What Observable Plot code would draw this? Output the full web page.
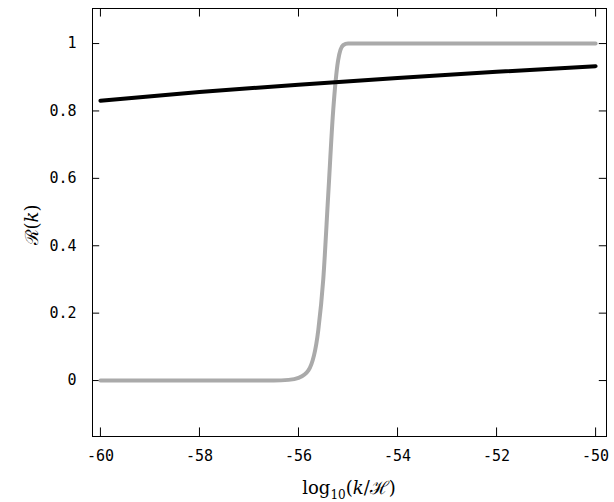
<!DOCTYPE html><html><head><meta charset="utf-8">
<script src="https://cdn.jsdelivr.net/npm/d3@7"></script>
<script src="https://cdn.jsdelivr.net/npm/@observablehq/plot@0.6"></script>
<style>body{margin:0;background:#fff}</style></head><body><div id="c"></div><script>
const blackX=[-60,-58,-56,-54,-52,-50];
const blackY=[0.83,0.856,0.878,0.898,0.916,0.933];
const grayX=[-60,-56.5,-56.2,-56,-55.8,-55.6,-55.5,-55.4,-55.3,-55.2,-55.1,-55,-50];
const grayY=[0,0,0.002,0.008,0.03,0.15,0.3,0.55,0.8,0.95,0.995,1,1];
const xTicks=[-60,-58,-56,-54,-52,-50];
const yTicks=[0,0.2,0.4,0.6,0.8,1];
const xDom=[-60.16,-49.78], yDom=[-0.166,1.104];
const black=blackX.map((x,i)=>({x,y:blackY[i]}));
const gray=grayX.map((x,i)=>({x,y:grayY[i]}));
const tx=(xDom[1]-xDom[0])*0.014, ty=(yDom[1]-yDom[0])*0.02;
const p=Plot.plot({width:614,height:502,marginLeft:92,marginRight:8,marginTop:8,marginBottom:66,
style:{fontFamily:"DejaVu Sans Mono",fontSize:"15px",color:"#000"},
x:{domain:xDom},
y:{domain:yDom},
marks:[
Plot.frame({stroke:"#000"}),
Plot.axisX({ticks:xTicks,tickSize:0,tickPadding:14,label:null,tickFormat:d=>String(d)}),
Plot.axisY({ticks:yTicks,tickSize:0,tickPadding:16,label:null,tickFormat:d=>String(d)}),
Plot.ruleX(xTicks,{y1:yDom[0],y2:yDom[0]+ty,stroke:"#000"}),
Plot.ruleX(xTicks,{y1:yDom[1],y2:yDom[1]-ty,stroke:"#000"}),
Plot.ruleY(yTicks,{x1:xDom[0],x2:xDom[0]+tx,stroke:"#000"}),
Plot.ruleY(yTicks,{x1:xDom[1],x2:xDom[1]-tx,stroke:"#000"}),
Plot.line(gray,{x:"x",y:"y",stroke:"#aaa",strokeWidth:4,curve:"monotone-x"}),
Plot.line(black,{x:"x",y:"y",stroke:"#000",strokeWidth:4,curve:"monotone-x"}),
]});
const svg=d3.select(p);
svg.append("text").attr("x",349).attr("y",494).attr("text-anchor","middle").attr("font-family","DejaVu Serif").attr("font-size",18)
 .html('log<tspan font-size="12" dy="5">10</tspan><tspan dy="-5">(</tspan><tspan font-style="italic">k</tspan>/ℋ)');
svg.append("text").attr("transform","translate(38,225) rotate(-90)").attr("text-anchor","middle").attr("font-family","DejaVu Serif").attr("font-size",18)
 .html('ℛ(<tspan font-style="italic">k</tspan>)');
document.getElementById("c").append(p);
</script></body></html>
